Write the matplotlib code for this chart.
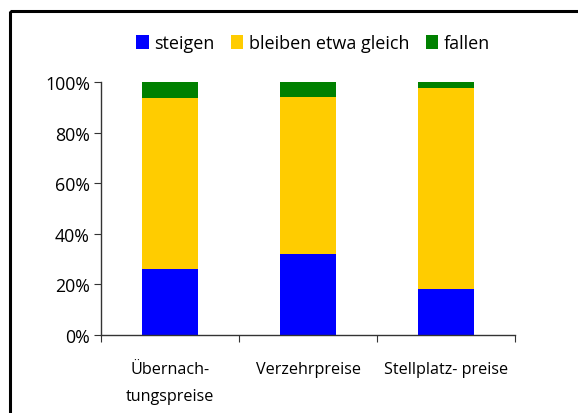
import matplotlib
matplotlib.use("Agg")
import matplotlib.pyplot as plt
from matplotlib.patches import Rectangle
from matplotlib.ticker import PercentFormatter

categories = ["Übernach-\ntungspreise", "Verzehrpreise", "Stellplatz- preise"]
steigen = [26, 32, 18]
gleich = [67.7, 62, 79.6]
fallen = [6.3, 6, 2.4]
series_names = ["steigen", "bleiben etwa gleich", "fallen"]
colors = ["#0000FF", "#FFCC00", "#008000"]

plt.rcParams['font.family'] = ['Open Sans', 'DejaVu Sans']

W, H = 578, 414
fig = plt.figure(figsize=(W/100, H/100), dpi=100)

# outer frame
fig.patches.append(Rectangle((10/W, 1 - 11.5/H), 1.0, -1.2, transform=fig.transFigure,
                             fill=False, edgecolor="black", linewidth=2.2, clip_on=False))

ax = fig.add_axes([101/W, 1 - 336/H, (515-101)/W, (336-83)/H])
x = list(range(len(categories)))
bw = 0.405
b1 = ax.bar(x, steigen, bw, color=colors[0], label=series_names[0])
bottom2 = steigen
b2 = ax.bar(x, gleich, bw, bottom=bottom2, color=colors[1], label=series_names[1])
bottom3 = [a + b for a, b in zip(steigen, gleich)]
b3 = ax.bar(x, fallen, bw, bottom=bottom3, color=colors[2], label=series_names[2])

ax.set_xlim(-0.5, len(categories) - 0.5)
ax.set_ylim(0, 100)
ax.set_yticks([0, 20, 40, 60, 80, 100])
ax.yaxis.set_major_formatter(PercentFormatter(decimals=0))
ax.spines['top'].set_visible(False)
ax.spines['right'].set_visible(False)
for s in ['left', 'bottom']:
    ax.spines[s].set_color('#333333')
    ax.spines[s].set_linewidth(1.0)

ax.set_xticks([-0.5, 0.5, 1.5, 2.5])
ax.set_xticklabels([])
ax.tick_params(axis='x', length=5, color='#333333', direction='out')
ax.set_xticks(x, minor=True)
ax.set_xticklabels(categories, minor=True)
ax.tick_params(axis='x', which='minor', length=0, pad=19, labelsize=11.6)
ax.tick_params(axis='y', length=5, color='#333333', labelsize=12.8, pad=3)
for lbl in ax.get_xticklabels(minor=True):
    lbl.set_linespacing(1.9)

fig.legend(handles=[b1, b2, b3], labels=series_names, loc='center',
           bbox_to_anchor=(313/W, 1 - 44/H), ncol=3, frameon=False,
           fontsize=13, handlelength=0.7, handleheight=0.85,
           handletextpad=0.3, columnspacing=0.9, borderaxespad=0)

fig.savefig("out.png", dpi=100)
